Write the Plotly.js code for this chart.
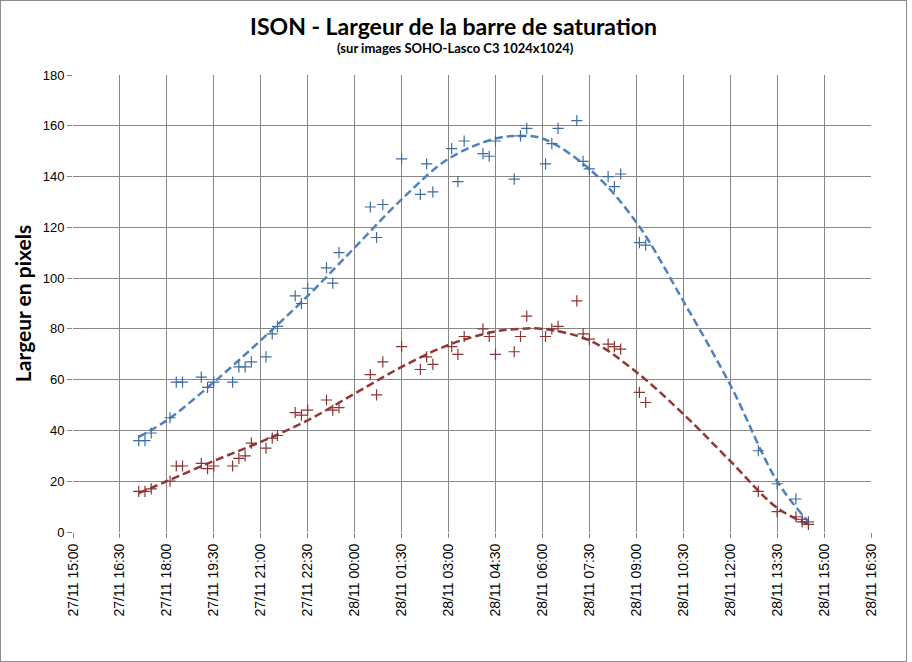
<!DOCTYPE html>
<html>
<head>
<meta charset="utf-8">
<script src="https://cdn.plot.ly/plotly-3.0.1.min.js"></script>
<style>
  body { margin: 0; background: #fff; }
  #plot { width: 905px; height: 660px; border: 1px solid #8c8c8c; }
</style>
</head>
<body>
<div id="plot"></div>
<script>
// heures des images (27/11 -> 28/11/2013)
var times = [
  '2013-11-27 17:06', '2013-11-27 17:18', '2013-11-27 17:30',
  '2013-11-27 18:06', '2013-11-27 18:18', '2013-11-27 18:30',
  '2013-11-27 19:06', '2013-11-27 19:18', '2013-11-27 19:30',
  '2013-11-27 20:06', '2013-11-27 20:18', '2013-11-27 20:30', '2013-11-27 20:42',
  '2013-11-27 21:10', '2013-11-27 21:22', '2013-11-27 21:32',
  '2013-11-27 22:06', '2013-11-27 22:18', '2013-11-27 22:30',
  '2013-11-27 23:06', '2013-11-27 23:18', '2013-11-27 23:30',
  '2013-11-28 00:30', '2013-11-28 00:42', '2013-11-28 00:54',
  '2013-11-28 01:30',
  '2013-11-28 02:06', '2013-11-28 02:18', '2013-11-28 02:30',
  '2013-11-28 03:06', '2013-11-28 03:18', '2013-11-28 03:30',
  '2013-11-28 04:06', '2013-11-28 04:18', '2013-11-28 04:30',
  '2013-11-28 05:06', '2013-11-28 05:18', '2013-11-28 05:30',
  '2013-11-28 06:06', '2013-11-28 06:18', '2013-11-28 06:30',
  '2013-11-28 07:06', '2013-11-28 07:18', '2013-11-28 07:30',
  '2013-11-28 08:06', '2013-11-28 08:18', '2013-11-28 08:30',
  '2013-11-28 09:06', '2013-11-28 09:18',
  '2013-11-28 12:54', '2013-11-28 13:30', '2013-11-28 14:06',
  '2013-11-28 14:18', '2013-11-28 14:30'
];

var blueValues = [
  36, 36, 39, 45, 59, 59, 61, 57, 59, 59, 65, 65, 67, 69, 78, 81,
  93, 90, 96, 104, 98, 110, 128, 116, 129, 147, 133, 145, 134,
  151, 138, 154, 149, 148, 154, 139, 156, 159, 145, 153, 159,
  162, 146, 143, 140, 136, 141, 114, 113, 32, 19, 13, 5, 4
];

var redValues = [
  16, 16, 17, 20, 26, 26, 27, 25, 26, 26, 29, 30, 35, 33, 37, 38,
  47, 46, 48, 52, 48, 49, 62, 54, 67, 73, 64, 69, 66,
  73, 70, 77, 80, 77, 70, 71, 77, 85, 77, 80, 81,
  91, 78, 76, 74, 73, 72, 55, 51, 16, 8, 6, 4, 3
];

// courbes de tendance
var trendTimes = [
  '2013-11-27 17:06', '2013-11-27 18:00', '2013-11-27 19:30', '2013-11-27 21:00',
  '2013-11-27 22:30', '2013-11-28 00:00', '2013-11-28 01:30', '2013-11-28 03:00',
  '2013-11-28 04:30', '2013-11-28 05:15', '2013-11-28 06:00', '2013-11-28 07:30',
  '2013-11-28 09:00', '2013-11-28 10:30', '2013-11-28 12:00', '2013-11-28 13:30',
  '2013-11-28 14:30'
];
var blueTrend = [37.5, 44, 59, 75.5, 93, 112, 131, 147, 155, 156, 155, 143, 122, 91, 58, 20, 4];
var redTrend  = [15.3, 20, 28, 35.5, 44, 54.5, 65, 73.7, 79, 80, 80, 75.5, 63, 46.5, 28, 9.5, 3];

var blueMark = '#3f6c9e', blueLine = '#4f81bd';
var redMark = '#8b3433', redLine = '#943634';

var traces = [
  {
    type: 'scatter', mode: 'lines', x: trendTimes, y: blueTrend,
    line: {color: blueLine, width: 2.5, dash: '8px,4px', shape: 'spline'},
    hoverinfo: 'skip'
  },
  {
    type: 'scatter', mode: 'lines', x: trendTimes, y: redTrend,
    line: {color: redLine, width: 2.5, dash: '8px,4px', shape: 'spline'},
    hoverinfo: 'skip'
  },
  {
    type: 'scatter', mode: 'markers', x: times, y: blueValues,
    marker: {symbol: 'cross-thin-open', size: 8, color: blueMark, line: {color: blueMark, width: 1.2}}
  },
  {
    type: 'scatter', mode: 'markers', x: times, y: redValues,
    marker: {symbol: 'cross-thin-open', size: 8, color: redMark, line: {color: redMark, width: 1.2}}
  }
];

var layout = {
  width: 905,
  height: 660,
  showlegend: false,
  paper_bgcolor: '#fff',
  plot_bgcolor: '#fff',
  margin: {l: 72, r: 35, t: 74, b: 129},
  title: {
    text: 'ISON - Largeur de la barre de saturation',
    font: {family: 'Lato', size: 23, color: '#000', weight: 'bold'},
    x: 0.5, xref: 'container', xanchor: 'center',
    y: 1 - 26 / 660, yref: 'container', yanchor: 'middle'
  },
  annotations: [{
    text: '(sur images SOHO-Lasco C3 1024x1024)',
    font: {family: 'Lato', size: 13, color: '#000', weight: 'bold'},
    xref: 'paper', yref: 'paper', x: (454 - 72) / 798, y: 1 + (74 - 47) / 457,
    xanchor: 'center', yanchor: 'middle', showarrow: false
  }],
  xaxis: {
    type: 'date',
    range: ['2013-11-27 15:00', '2013-11-28 16:30'],
    tick0: '2013-11-27 15:00',
    dtick: 5400000,
    tickformat: '%d/%m %H:%M',
    tickangle: -90,
    tickfont: {family: 'Liberation Sans', size: 14, color: '#000'},
    ticks: 'outside', ticklen: 5, tickcolor: '#868686',
    showgrid: true, gridcolor: '#868686', gridwidth: 1,
    zeroline: false, showline: false
  },
  yaxis: {
    range: [0, 180],
    dtick: 20,
    tickfont: {family: 'Liberation Sans', size: 13, color: '#000'},
    ticks: 'outside', ticklen: 5, tickcolor: '#868686',
    showgrid: true, gridcolor: '#868686', gridwidth: 1,
    zeroline: false, showline: false,
    title: {
      text: 'Largeur en pixels',
      font: {family: 'Lato', size: 21, color: '#000', weight: 'bold'},
      standoff: 5
    }
  }
};

Plotly.newPlot('plot', traces, layout, {displayModeBar: false, staticPlot: true});
</script>
</body>
</html>
